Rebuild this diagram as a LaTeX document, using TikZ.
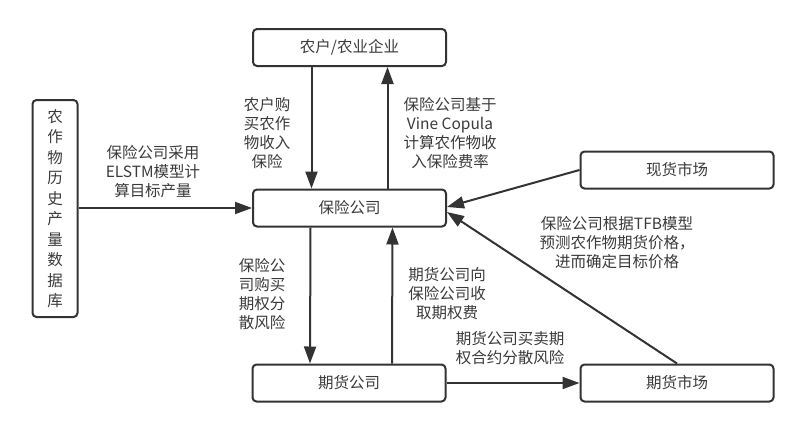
\documentclass[tikz,border=0pt]{standalone}
\usepackage{fontspec}
\newfontfamily\cjk{Noto Sans CJK SC}
\usetikzlibrary{arrows.meta,positioning}
\definecolor{linegray}{HTML}{333333}
\definecolor{textgray}{HTML}{3A3A3A}

\begin{document}
\begin{tikzpicture}[x=1pt, y=-1pt,
  box/.style={draw=linegray, line width=2pt, rounded corners=4pt, text=textgray,
    minimum width=193pt, minimum height=37pt, inner sep=0pt,
    font=\cjk\fontsize{15.5}{19}\selectfont},
  lbl/.style={text=textgray, align=center, inner sep=0pt,
    font=\cjk\fontsize{15.5}{19}\selectfont},
  flow/.style={draw=linegray, line width=2pt, -{Triangle[length=17pt,width=12pt]}}
]
\useasboundingbox (0,0) rectangle (807,432);

% boxes
\node[box] (farm) at (349.5,47.5) {农户/农业企业};
\node[box] (ins) at (349.5,208) {保险公司};
\node[box] (spot) at (677,170) {现货市场};
\node[box] (fcomp) at (349,383) {期货公司};
\node[box] (fmkt) at (677,383) {期货市场};
\node[box, minimum width=45pt, minimum height=217pt, align=center,
  font=\cjk\fontsize{15.5}{20.5}\selectfont] (db) at (55,208.5)
  {农\\作\\物\\历\\史\\产\\量\\数\\据\\库};

% connectors
\draw[flow] ([xshift=-38pt]farm.south) -- ([xshift=-38pt]ins.north);
\draw[flow] ([xshift=38pt]ins.north) -- ([xshift=38pt]farm.south);
\draw[flow] (db.east |- ins.west) -- (ins.west);
\draw[flow] (spot.west) -- ([yshift=1pt]ins.east);
\draw[flow] (fmkt.north) -- ([yshift=-4pt]ins.east);
\draw[flow] ([xshift=-39pt]ins.south) -- ([xshift=-39pt]fcomp.north);
\draw[flow] ([xshift=43pt]fcomp.north) -- ([xshift=43pt]ins.south);
\draw[flow] (fcomp.east) -- (fmkt.west);

% labels
\node[lbl] (buy) at (267,133) {农户购\\买农作\\物收入\\保险};
\node[lbl] (rate) at (450,133) {保险公司基于\\Vine Copula\\计算农作物收\\入保险费率};
\node[lbl] (yield) at (153,172) {保险公司采用\\ELSTM模型计\\算目标产量};
\node[lbl] (tfb) at (617,243) {保险公司根据TFB模型\\预测农作物期货价格，\\进而确定目标价格};
\node[lbl] (opt) at (262,294) {保险公\\司购买\\期权分\\散风险};
\node[lbl] (fee) at (447,294) {期货公司向\\保险公司收\\取期权费};
\node[lbl] (hedge) at (510,348) {期货公司买卖期\\权合约分散风险};
\end{tikzpicture}
\end{document}
